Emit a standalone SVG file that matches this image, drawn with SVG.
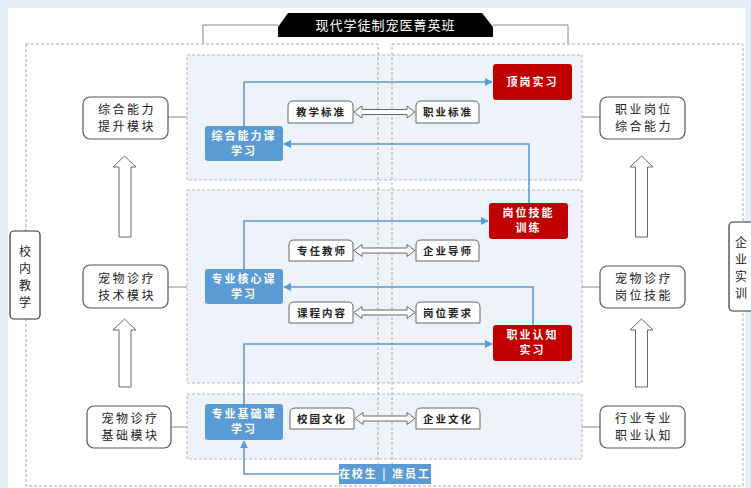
<svg xmlns="http://www.w3.org/2000/svg" width="751" height="488" viewBox="0 0 751 488">
<style>
text{font-family:"Noto Sans CJK SC","Noto Sans",sans-serif;text-anchor:middle}
.mod{fill:#fff;stroke:#555;stroke-width:1.2}
.mt{font-size:12px;fill:#222;letter-spacing:2.5px}
.panel{fill:#eef3f9;stroke:#b8b8b8;stroke-width:1;stroke-dasharray:3 2}
.outer{fill:none;stroke:#a8a8a8;stroke-width:1;stroke-dasharray:3 2}
.gl{stroke:#888;stroke-width:1;fill:none}
.blue{fill:#5b9bd5}
.red{fill:#c00000}
.wt{font-size:11px;fill:#fff;letter-spacing:2px;font-weight:bold}
.pill{fill:#fff;stroke:#666;stroke-width:1}
.pt{font-size:10.5px;fill:#222;letter-spacing:2px;font-weight:bold}
.harr{fill:#fff;stroke:#666;stroke-width:1}
.conn{stroke:#5b9bd5;stroke-width:1.6;fill:none}
.side{fill:#fff;stroke:#333;stroke-width:1.2}
</style>
<defs>
<marker id="ah" viewBox="0 0 10 10" refX="9" refY="5" markerWidth="5" markerHeight="5" orient="auto"><path d="M0,0 L10,5 L0,10 Z" fill="#5b9bd5"/></marker>
</defs>
<rect x="0" y="0" width="751" height="488" fill="#e9eff9"/>
<rect x="8" y="8" width="737" height="480" fill="#fff"/>

<g id="panels">
<rect class="panel" x="187" y="55" width="395" height="125"/>
<rect class="panel" x="187" y="190" width="395" height="193"/>
<rect class="panel" x="187" y="394" width="395" height="65"/>
</g>
<g id="frames">
<rect class="outer" x="26" y="44" width="352" height="442"/>
<rect class="outer" x="392" y="44" width="351" height="442"/>
<path class="gl" d="M278,25 H203 V44 M493,25 H568 V44"/>
<path class="gl" d="M168,117 H187 M168,287 H187 M171,427 H187 M582,117 H600 M582,287 H600 M582,427 H600"/>
</g>

<g id="title">
<polygon points="278,37 278,27 288,13 482,13 493,27 493,37" fill="#000"/>
<text x="385.5" y="30" font-size="13" fill="#fff" letter-spacing="1">现代学徒制宠医菁英班</text>
</g>

<g id="side-left">
<rect class="side" x="10" y="231" width="30" height="88" rx="4"/>
<text x="25" y="256" font-size="12" fill="#222">校</text>
<text x="25" y="273" font-size="12" fill="#222">内</text>
<text x="25" y="290" font-size="12" fill="#222">教</text>
<text x="25" y="307" font-size="12" fill="#222">学</text>
</g>
<g id="side-right">
<rect class="side" x="729" y="222" width="28" height="89" rx="4"/>
<text x="741" y="247" font-size="12" fill="#222">企</text>
<text x="741" y="264" font-size="12" fill="#222">业</text>
<text x="741" y="281" font-size="12" fill="#222">实</text>
<text x="741" y="298" font-size="12" fill="#222">训</text>
</g>

<g id="m1"><rect class="mod" x="83" y="97" width="85" height="42" rx="7"/><text class="mt" x="127" y="114">综合能力</text><text class="mt" x="127" y="131">提升模块</text></g>
<g id="m2"><rect class="mod" x="83" y="265" width="85" height="43" rx="7"/><text class="mt" x="127" y="283">宠物诊疗</text><text class="mt" x="127" y="300">技术模块</text></g>
<g id="m3"><rect class="mod" x="87" y="406" width="84" height="42" rx="7"/><text class="mt" x="130.5" y="423">宠物诊疗</text><text class="mt" x="130.5" y="440">基础模块</text></g>
<g id="m4"><rect class="mod" x="600" y="97" width="85" height="42" rx="7"/><text class="mt" x="644" y="114">职业岗位</text><text class="mt" x="644" y="131">综合能力</text></g>
<g id="m5"><rect class="mod" x="600" y="266" width="85" height="42" rx="7"/><text class="mt" x="644" y="283">宠物诊疗</text><text class="mt" x="644" y="300">岗位技能</text></g>
<g id="m6"><rect class="mod" x="600" y="406" width="85" height="42" rx="7"/><text class="mt" x="644" y="423">行业专业</text><text class="mt" x="644" y="440">职业认知</text></g>

<g id="up-arrows" fill="#fff" stroke="#666" stroke-width="1">
<polygon points="119,237 119,167 113,167 124.5,156 136,167 131,167 131,237"/>
<polygon points="119,387 119,330 113,330 124.5,319 136,330 131,330 131,387"/>
<polygon points="635.5,237 635.5,167 630,167 641.5,156 653,167 647.5,167 647.5,237"/>
<polygon points="635.5,387 635.5,330 630,330 641.5,319 653,330 647.5,330 647.5,387"/>
</g>

<g id="b1"><rect class="blue" x="205" y="126" width="78" height="35" rx="3"/><text class="wt" x="244" y="140">综合能力课</text><text class="wt" x="244" y="155">学习</text></g>
<g id="b2"><rect class="blue" x="205" y="269" width="78" height="35" rx="3"/><text class="wt" x="244" y="283">专业核心课</text><text class="wt" x="244" y="298">学习</text></g>
<g id="b3"><rect class="blue" x="205" y="404" width="78" height="36" rx="3"/><text class="wt" x="244" y="418">专业基础课</text><text class="wt" x="244" y="433">学习</text></g>
<g id="b4"><rect class="blue" x="339" y="464" width="92" height="20"/><text class="wt" x="385" y="478">在校生 | 准员工</text></g>

<g id="r1"><rect class="red" x="493" y="64" width="79" height="36" rx="3"/><text class="wt" x="532.5" y="86">顶岗实习</text></g>
<g id="r2"><rect class="red" x="489" y="203" width="79" height="36" rx="3"/><text class="wt" x="528.5" y="217">岗位技能</text><text class="wt" x="528.5" y="232">训练</text></g>
<g id="r3"><rect class="red" x="493" y="325" width="79" height="36" rx="3"/><text class="wt" x="532.5" y="339">职业认知</text><text class="wt" x="532.5" y="354">实习</text></g>

<g id="pills">
<path class="pill" d="M288,123 V106 Q288,101 293,101 H348 Q353,101 353,106 V123 Z"/><text class="pt" x="321" y="116">教学标准</text>
<path class="pill" d="M416,123 V106 Q416,101 421,101 H474 Q479,101 479,106 V123 Z"/><text class="pt" x="448" y="116">职业标准</text>
<path class="pill" d="M289,261 V245 Q289,240 294,240 H348 Q353,240 353,245 V261 Z"/><text class="pt" x="322" y="255">专任教师</text>
<path class="pill" d="M416,261 V245 Q416,240 421,240 H474 Q479,240 479,245 V261 Z"/><text class="pt" x="448" y="255">企业导师</text>
<path class="pill" d="M289,323 V307 Q289,302 294,302 H348 Q353,302 353,307 V323 Z"/><text class="pt" x="322" y="317">课程内容</text>
<path class="pill" d="M416,323 V307 Q416,302 421,302 H475 Q480,302 480,307 V323 Z"/><text class="pt" x="448" y="317">岗位要求</text>
<path class="pill" d="M290,429 V413 Q290,408 295,408 H349 Q354,408 354,413 V429 Z"/><text class="pt" x="322" y="423">校园文化</text>
<path class="pill" d="M416,429 V413 Q416,408 421,408 H475 Q480,408 480,413 V429 Z"/><text class="pt" x="448" y="423">企业文化</text>
</g>

<g id="dbl-arrows">
<path class="harr" d="M354,112 L362,106 L362,109.5 L407,109.5 L407,106 L415,112 L407,118 L407,114.5 L362,114.5 L362,118 Z"/>
<path class="harr" d="M354,250.5 L362,244.5 L362,248 L407,248 L407,244.5 L415,250.5 L407,256.5 L407,253 L362,253 L362,256.5 Z"/>
<path class="harr" d="M354,312.5 L362,306.5 L362,310 L407,310 L407,306.5 L415,312.5 L407,318.5 L407,315 L362,315 L362,318.5 Z"/>
<path class="harr" d="M355,418.5 L363,412.5 L363,416 L407,416 L407,412.5 L415,418.5 L407,424.5 L407,421 L363,421 L363,424.5 Z"/>
</g>

<g id="connectors">
<path class="conn" d="M244,126 V82 H492" marker-end="url(#ah)"/>
<path class="conn" d="M529,203 V144 H284" marker-end="url(#ah)"/>
<path class="conn" d="M244,269 V221 H488" marker-end="url(#ah)"/>
<path class="conn" d="M533,325 V287 H284" marker-end="url(#ah)"/>
<path class="conn" d="M244,404 V344 H492" marker-end="url(#ah)"/>
<path class="conn" d="M339,474 H244 V441" marker-end="url(#ah)"/>
</g>
</svg>
